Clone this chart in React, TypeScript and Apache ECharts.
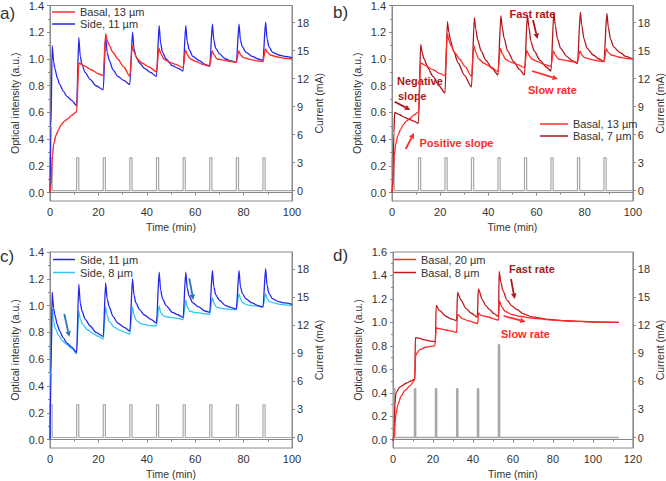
import React, { useEffect, useRef } from 'react';
import * as echarts from 'echarts';

// ---------- data ----------
const timeTicks100 = [0, 20, 40, 60, 80, 100];
const intensityTicks14 = [0, 0.2, 0.4, 0.6, 0.8, 1.0, 1.2, 1.4];
const intensityMinor14 = [0.1, 0.3, 0.5, 0.7, 0.9, 1.1, 1.3];
const intensityTicks16 = [0, 0.2, 0.4, 0.6, 0.8, 1.0, 1.2, 1.4, 1.6];
const intensityMinor16 = [0.1, 0.3, 0.5, 0.7, 0.9, 1.1, 1.3, 1.5];
const currentTicks = [0, 3, 6, 9, 12, 15, 18];

// current pulses (min) and heights (mA)
const pulseTimesABC = [0, 11, 22, 33, 44, 55, 66, 77, 88];
const pulseHeightsABC = [3.5, 3.5, 3.5, 3.5, 3.5, 3.5, 3.5, 3.5, 3.5];
const pulseTimesD = [0.4, 10.8, 21.3, 31.9, 42.3, 52.8];
const pulseHeightsD = [5.2, 5.2, 5.2, 5.2, 5.2, 9.9];

// Basal, 13 µm (panels a, b)
const basal13 = [
  [0, 0], [0.4, 0.05], [1, 0.28], [1.5, 0.36], [2.5, 0.43], [3.5, 0.47], [4.5, 0.505], [6, 0.535], [7.5, 0.555], [9, 0.58], [11, 0.605],
  [11.9, 0.97], [14, 0.95], [17, 0.92], [20, 0.89], [22, 0.875],
  [23, 1.19], [23.6, 1.14], [24.5, 1.1], [26, 1.05], [28, 1.0], [30.5, 0.94], [33, 0.87],
  [34, 1.1], [34.8, 1.05], [36, 1.0], [38, 0.97], [41, 0.94], [44, 0.905],
  [45, 1.08], [45.8, 1.04], [47, 1.0], [49.5, 0.975], [52, 0.96], [55, 0.935],
  [56, 1.065], [56.8, 1.03], [58, 1.0], [60.5, 0.98], [63, 0.96], [66, 0.945],
  [67, 1.06], [67.8, 1.03], [69, 1.0], [72, 0.99], [75, 0.98], [77, 0.975],
  [78, 1.06], [78.8, 1.03], [80, 1.01], [83, 0.995], [86, 0.985], [88, 0.98],
  [89, 1.075], [89.8, 1.05], [91, 1.03], [94, 1.015], [97, 1.005], [100, 1.0],
];

// Side, 11 µm (panels a, c)
const side11 = [
  [0, 0], [0.4, 0.5], [0.9, 1.1], [1.5, 0.98], [2, 0.93], [3, 0.86], [4, 0.81], [5.5, 0.76], [7, 0.72], [9, 0.69], [11, 0.65],
  [11.9, 1.16], [12.5, 1.02], [13.2, 0.96], [14.5, 0.9], [16.5, 0.85], [19, 0.8], [22, 0.77],
  [23, 1.17], [23.6, 1.05], [24.5, 0.99], [26, 0.92], [28, 0.87], [30.5, 0.84], [33, 0.81],
  [34.1, 1.2], [34.7, 1.08], [35.5, 1.02], [37, 0.97], [39, 0.93], [41.5, 0.9], [44, 0.87],
  [45.1, 1.25], [45.7, 1.12], [46.5, 1.05], [48, 1.0], [50.5, 0.95], [53, 0.93], [55, 0.91],
  [56.1, 1.25], [56.7, 1.13], [57.5, 1.07], [59, 1.02], [61.5, 0.99], [64, 0.96], [66, 0.95],
  [67.1, 1.26], [67.7, 1.14], [68.5, 1.08], [70, 1.04], [72.5, 1.0], [75, 0.985], [77, 0.975],
  [78.1, 1.26], [78.7, 1.14], [79.5, 1.09], [81, 1.05], [83.5, 1.02], [86, 1.0], [88, 0.99],
  [89.1, 1.275], [89.7, 1.15], [90.5, 1.09], [92, 1.05], [94.5, 1.03], [97, 1.02], [100, 1.01],
];

// Basal, 7 µm (panel b)
const basal7 = [
  [0, 0], [0.4, 0.1], [0.8, 0.45], [1.1, 0.6], [3, 0.585], [5, 0.565], [7, 0.55], [9, 0.535], [11, 0.518],
  [11.9, 1.11], [12.5, 1.05], [13.3, 1.0], [15, 0.93], [17, 0.87], [19.5, 0.8], [22, 0.745],
  [23, 1.28], [23.6, 1.2], [24.3, 1.14], [25.5, 1.06], [27.5, 0.97], [30, 0.88], [33, 0.79],
  [34.2, 1.31], [34.8, 1.22], [35.6, 1.14], [37, 1.06], [39, 0.99], [41.5, 0.93], [44, 0.88],
  [45.2, 1.325], [45.8, 1.23], [46.5, 1.16], [48, 1.06], [50.5, 0.98], [53, 0.92], [55, 0.88],
  [56.2, 1.33], [56.8, 1.24], [57.7, 1.13], [59, 1.06], [61.5, 0.99], [64, 0.94], [66, 0.91],
  [67.2, 1.35], [67.8, 1.25], [68.7, 1.15], [70, 1.08], [72.5, 1.02], [75, 0.985], [77, 0.965],
  [78.2, 1.35], [78.8, 1.25], [79.7, 1.15], [81, 1.08], [83.5, 1.03], [86, 1.0], [88, 0.98],
  [89.2, 1.34], [89.8, 1.24], [90.7, 1.15], [92, 1.09], [94.5, 1.05], [97, 1.02], [100, 1.0],
];

// Side, 8 µm (panel c)
const side8 = [
  [0, 0], [0.4, 0.6], [0.9, 0.98], [1.5, 0.88], [2.2, 0.83], [3.5, 0.78], [5, 0.74], [7, 0.71], [9, 0.68], [11, 0.64],
  [11.9, 0.96], [12.5, 0.9], [13.5, 0.86], [15.5, 0.82], [18, 0.79], [20, 0.77], [22, 0.75],
  [23, 0.99], [23.6, 0.93], [24.5, 0.88], [26.5, 0.84], [29, 0.815], [31, 0.8], [33, 0.785],
  [34.1, 0.99], [34.7, 0.93], [35.7, 0.89], [37.5, 0.865], [40, 0.855], [42, 0.85], [44, 0.85],
  [45.1, 1.0], [45.7, 0.95], [46.7, 0.925], [48.5, 0.915], [51, 0.91], [53, 0.905], [55, 0.895],
  [56.1, 1.04], [56.7, 0.99], [57.7, 0.96], [59.5, 0.95], [62, 0.945], [64, 0.94], [66, 0.935],
  [67.1, 1.06], [67.7, 1.02], [68.7, 0.99], [70.5, 0.98], [73, 0.975], [75, 0.97], [77, 0.97],
  [78.1, 1.09], [78.7, 1.05], [79.7, 1.02], [81.5, 1.005], [84, 1.0], [86, 0.995], [88, 0.99],
  [89.1, 1.09], [89.7, 1.05], [90.7, 1.03], [92.5, 1.02], [95, 1.01], [97, 1.005], [100, 1.0],
];

// Basal, 20 µm (panel d)
const basal20 = [
  [0, -0.01], [0.5, 0.02], [1, 0.14], [1.5, 0.22], [2.5, 0.3], [4, 0.37], [6, 0.42], [8.5, 0.46], [10.9, 0.51],
  [11.3, 0.71], [12, 0.74], [13.4, 0.767], [16.7, 0.79], [21, 0.8],
  [21.6, 0.952], [25, 0.94], [28, 0.93], [31.8, 0.915],
  [32.3, 1.066], [34.9, 1.03], [38.2, 1.01], [42.4, 0.99],
  [42.8, 1.08], [44, 1.06], [46.5, 1.05], [52.8, 1.02],
  [53.2, 1.185], [54.5, 1.13], [56, 1.095], [59.7, 1.066], [64, 1.05], [70, 1.035], [80, 1.02], [90, 1.01], [100, 1.004], [113, 1.0],
];

// Basal, 8 µm (panel d)
const basal8 = [
  [0, -0.01], [0.5, 0.05], [0.9, 0.3], [1.5, 0.4], [3.5, 0.45], [6.8, 0.483], [9, 0.5], [10.9, 0.517],
  [11.2, 0.87], [13, 0.865], [16, 0.85], [19, 0.84], [21.2, 0.835],
  [21.6, 1.145], [23.3, 1.1], [26.7, 1.05], [29, 1.03], [31.8, 1.015],
  [32.3, 1.255], [34, 1.19], [36.5, 1.12], [39, 1.08], [42.2, 1.045],
  [42.7, 1.285], [44.8, 1.19], [46.5, 1.14], [48.2, 1.11], [50.5, 1.075], [52.8, 1.05],
  [53.1, 1.435], [54, 1.34], [55, 1.27], [57, 1.19], [59.5, 1.14], [62, 1.11], [65, 1.075], [69.5, 1.047], [78, 1.025], [86, 1.014], [95, 1.008], [103, 1.003], [113, 1.0],
];

// ---------- styles ----------
const RED = '#FF2B2B';
const DARK_RED = '#B0161B';
const DARK_RED_D = '#C0181E';
const BLUE = '#2525EE';
const CYAN = '#33C7F4';
const PULSE = '#A8A8A8';
const FRAME = '#8A8A8A';
const TXT = '#333333';
const ARROW_BLUE = '#2577B4';
const FONT = '"Liberation Sans", Arial, sans-serif';

function buildPulses(times: number[], heights: number[], width: number, end: number) {
  const pts: number[][] = [[0, 0]];
  times.forEach((t, i) => {
    pts.push([t, 0], [t, heights[i]], [t + width, heights[i]], [t + width, 0]);
  });
  pts.push([end, 0]);
  return pts;
}

function arrow(x1: number, y1: number, x2: number, y2: number, color: string, w = 1.8, head = 5.5) {
  const a = Math.atan2(y2 - y1, x2 - x1);
  const bx = x2 - head * Math.cos(a);
  const by = y2 - head * Math.sin(a);
  const px = -Math.sin(a) * head * 0.5;
  const py = Math.cos(a) * head * 0.5;
  return [
    { type: 'line', shape: { x1, y1, x2: bx, y2: by }, style: { stroke: color, lineWidth: w } },
    { type: 'polygon', shape: { points: [[x2, y2], [bx + px, by + py], [bx - px, by - py]] }, style: { fill: color } },
  ];
}

function label(text: string, x: number, y: number, color: string, font = `bold 11px ${FONT}`) {
  return { type: 'text', x, y, style: { text, fill: color, font, align: 'left', verticalAlign: 'middle' } };
}

export default function App() {
  const ref = useRef<HTMLDivElement>(null);

  useEffect(() => {
    if (!ref.current) return;
    const chart = echarts.init(ref.current, null, { renderer: 'svg' });

    const grids = [
      { left: 50, top: 5, width: 242, height: 196 },
      { left: 392, top: 5, width: 242.5, height: 196 },
      { left: 50, top: 252, width: 242, height: 196 },
      { left: 393, top: 252, width: 242, height: 196 },
    ].map((g) => ({ ...g, show: true, borderColor: FRAME, borderWidth: 1 }));

    const xAxis = [100, 100, 100, 120].map((max, i) => ({
      gridIndex: i,
      type: 'value',
      min: 0,
      max,
      interval: 20,
      name: 'Time (min)',
      nameLocation: 'middle',
      nameGap: 20,
      nameTextStyle: { fontSize: 10.5, color: TXT },
      axisLine: { show: true, lineStyle: { color: FRAME } },
      axisTick: { show: true, length: 3, lineStyle: { color: FRAME } },
      minorTick: { show: true, splitNumber: 2, length: 2, lineStyle: { color: FRAME } },
      axisLabel: { fontSize: 11, color: TXT, margin: 5 },
      splitLine: { show: false },
    }));

    const yAxis: any[] = [];
    [0, 1, 2, 3].forEach((i) => {
      const isD = i === 3;
      const maxY = isD ? 1.6 : 1.4;
      const minY = isD ? -0.071 : -0.062;
      const majors = isD ? intensityTicks16 : intensityTicks14;
      const minors = isD ? intensityMinor16 : intensityMinor14;
      yAxis.push({
        gridIndex: i,
        type: 'value',
        position: 'left',
        min: minY,
        max: maxY,
        name: 'Optical intensity (a.u.)',
        nameLocation: 'middle',
        nameGap: 30,
        nameTextStyle: { fontSize: 10.5, color: TXT },
        axisLine: { show: true, lineStyle: { color: FRAME } },
        axisTick: { show: true, length: 3, customValues: majors, lineStyle: { color: FRAME } },
        axisLabel: { fontSize: 11, color: TXT, margin: 6, customValues: majors, formatter: (v: number) => v.toFixed(1) },
        splitLine: { show: false },
      });
      yAxis.push({
        gridIndex: i,
        type: 'value',
        position: 'right',
        min: -1.12,
        max: 19.83,
        name: 'Current (mA)',
        nameLocation: 'middle',
        nameGap: 21,
        nameTextStyle: { fontSize: 10.5, color: TXT },
        axisLine: { show: true, lineStyle: { color: FRAME } },
        axisTick: { show: true, length: 3, customValues: currentTicks, lineStyle: { color: FRAME } },
        axisLabel: { fontSize: 11, color: TXT, margin: 5, customValues: currentTicks, formatter: (v: number) => String(v) },
        splitLine: { show: false },
      });
      yAxis.push({
        gridIndex: i,
        type: 'value',
        position: 'left',
        min: minY,
        max: maxY,
        axisLine: { show: false },
        axisTick: { show: true, length: 2, customValues: minors, lineStyle: { color: FRAME } },
        axisLabel: { show: false },
        splitLine: { show: false },
      });
    });

    const line = (name: string, data: number[][], color: string, grid: number, width = 1.3, z = 3) => ({
      name,
      type: 'line',
      xAxisIndex: grid,
      yAxisIndex: grid * 3,
      data,
      symbol: 'none',
      showSymbol: false,
      smooth: 0.25,
      smoothMonotone: 'x',
      lineStyle: { color, width },
      itemStyle: { color },
      z,
    });

    const pulse = (grid: number, data: number[][], width = 1.2) => ({
      name: 'Current',
      type: 'line',
      xAxisIndex: grid,
      yAxisIndex: grid * 3 + 1,
      data,
      symbol: 'none',
      showSymbol: false,
      lineStyle: { color: PULSE, width },
      itemStyle: { color: PULSE },
      z: 2,
    });

    const pulsesABC = buildPulses(pulseTimesABC, pulseHeightsABC, 0.9, 100);
    const pulsesD = buildPulses(pulseTimesD, pulseHeightsD, 0.5, 113);

    const series = [
      pulse(0, pulsesABC),
      line('Side, 11 µm', side11, BLUE, 0),
      line('Basal, 13 µm', basal13, RED, 0, 1.4, 4),
      pulse(1, pulsesABC),
      line('Basal, 7 µm', basal7, DARK_RED, 1),
      line('Basal, 13 µm', basal13, RED, 1, 1.3, 4),
      pulse(2, pulsesABC),
      line('Side, 8 µm', side8, CYAN, 2),
      line('Side, 11 µm', side11, BLUE, 2, 1.3, 4),
      pulse(3, pulsesD, 1.6),
      line('Basal, 8 µm', basal8, DARK_RED_D, 3),
      line('Basal, 20 µm', basal20, RED, 3, 1.3, 4),
    ];

    const legendBase = {
      orient: 'vertical',
      padding: 0,
      itemGap: 0,
      itemHeight: 1.5,
      icon: 'rect',
      selectedMode: false,
      textStyle: { fontSize: 11, color: TXT, lineHeight: 12 },
    };
    const legend = [
      { ...legendBase, left: 52, top: 6, itemWidth: 23, data: ['Basal, 13 µm', 'Side, 11 µm'] },
      { ...legendBase, left: 540, top: 118, itemWidth: 28, data: ['Basal, 13 µm', 'Basal, 7 µm'] },
      { ...legendBase, left: 53, top: 253, itemWidth: 22, textStyle: { ...legendBase.textStyle, lineHeight: 13 }, data: ['Side, 11 µm', 'Side, 8 µm'] },
      { ...legendBase, left: 394, top: 253, itemWidth: 22, textStyle: { ...legendBase.textStyle, lineHeight: 13 }, data: ['Basal, 20 µm', 'Basal, 8 µm'] },
    ];

    const graphic: any[] = [
      label('a)', 0, 13, TXT, `17px ${FONT}`),
      label('b)', 333, 12, TXT, `17px ${FONT}`),
      label('c)', 0, 256, TXT, `17px ${FONT}`),
      label('d)', 333, 255, TXT, `17px ${FONT}`),
      // panel b
      label('Negative', 397, 81, DARK_RED),
      label('slope', 398, 96, DARK_RED),
      ...arrow(394.7, 101.7, 410.3, 110, DARK_RED),
      label('Positive slope', 419.5, 142.5, RED),
      ...arrow(405.7, 149, 414, 133, RED),
      label('Fast rate', 509.5, 13.5, DARK_RED),
      ...arrow(533, 20, 537.5, 39, DARK_RED),
      label('Slow rate', 528, 89.5, RED),
      ...arrow(532, 71, 558, 79, RED),
      // panel c
      ...arrow(64.3, 314, 69.3, 336.7, ARROW_BLUE),
      ...arrow(189.3, 278.3, 193.3, 300, ARROW_BLUE),
      // panel d
      label('Fast rate', 509, 268.5, DARK_RED),
      ...arrow(511, 279, 514.7, 299, DARK_RED),
      label('Slow rate', 501, 333.5, RED),
      ...arrow(503.7, 316, 525.7, 321.7, RED),
    ];

    chart.setOption({
      animation: false,
      backgroundColor: '#ffffff',
      textStyle: { fontFamily: FONT },
      grid: grids,
      xAxis,
      yAxis,
      legend,
      series,
      graphic,
    });

    return () => chart.dispose();
  }, []);

  return (
    <div
      ref={ref}
      style={{ position: 'fixed', left: 0, top: 0, width: 666, height: 481, background: '#fff' }}
    />
  );
}
